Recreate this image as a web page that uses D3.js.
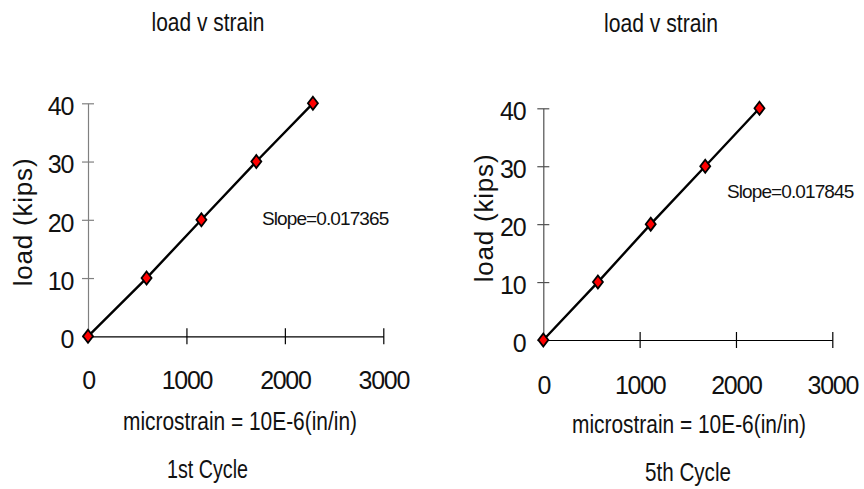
<!DOCTYPE html>
<html>
<head>
<meta charset="utf-8">
<script src="https://cdn.jsdelivr.net/npm/d3@7"></script>
<style>
  html, body { margin: 0; padding: 0; background: #fff; }
  svg { display: block; font-family: "Liberation Sans", Arial, sans-serif; }
</style>
</head>
<body>
<svg id="chart" width="864" height="489"></svg>
<script>
// ---- data ----
const loadTicks = [0, 10, 20, 30, 40];
const strainTicks = [0, 1000, 2000, 3000];
const cycle1Strain = [0, 595, 1152, 1710, 2285];
const cycle1Load = [0, 10, 20, 30, 40];
const cycle5Strain = [0, 567, 1115, 1681, 2244];
const cycle5Load = [0, 10, 20, 30, 40];
const chartTitles = ["load v strain", "load v strain"];
const cycleLabels = ["1st Cycle", "5th Cycle"];
const slopeLabels = ["Slope=0.017365", "Slope=0.017845"];
const xTitle = "microstrain = 10E-6(in/in)";
const yTitle = "load (kips)";

const svg = d3.select("#chart");

const panels = [
  { strain: cycle1Strain, load: cycle1Load, title: chartTitles[0], cycle: cycleLabels[0], slope: slopeLabels[0],
    x0: 88, x1: 383.3, y0: 336.3, y1: 103.3, yAxisColor: "#808080",
    titleX: 208, titleY: 31, titleW: 113,
    yLabX: 24, yLabY: 222, ytickOff: 15,
    xTitleX: 240, xTitleY: 430, xTitleW: 234,
    cycX: 207.5, cycY: 478, cycW: 81,
    slopeX: 262, slopeY: 225, xtickY: 389 },
  { strain: cycle5Strain, load: cycle5Load, title: chartTitles[1], cycle: cycleLabels[1], slope: slopeLabels[1],
    x0: 543.3, x1: 832.3, y0: 340, y1: 108.3, yAxisColor: "#505050",
    titleX: 661, titleY: 32, titleW: 114,
    yLabX: 485, yLabY: 218, ytickOff: 18,
    xTitleX: 689, xTitleY: 433, xTitleW: 234,
    cycX: 688, cycY: 481, cycW: 86,
    slopeX: 727, slopeY: 198, xtickY: 394 }
];

panels.forEach(p => {
  const x = d3.scaleLinear().domain([0, 3000]).range([p.x0, p.x1]);
  const y = d3.scaleLinear().domain([0, 40]).range([p.y0, p.y1]);
  const g = svg.append("g");

  // title
  g.append("text").attr("x", p.titleX).attr("y", p.titleY)
    .attr("text-anchor", "middle").attr("font-size", 26)
    .attr("textLength", p.titleW).attr("lengthAdjust", "spacingAndGlyphs")
    .attr("fill", "#111").text(p.title);

  // y axis
  const yAxis = d3.axisLeft(y).tickValues(loadTicks).tickSize(0).tickPadding(p.ytickOff);
  const ya = g.append("g").attr("transform", `translate(${p.x0},0)`).call(yAxis);
  ya.select(".domain").attr("stroke", p.yAxisColor).attr("stroke-width", 1.2);
  ya.selectAll(".tick text").attr("font-size", 25).attr("letter-spacing", "-1.3px")
    .attr("fill", "#111").attr("font-family", "Liberation Sans, Arial, sans-serif").attr("dy", "0.45em");
  ya.selectAll(".tick").append("line")
    .attr("x1", -6).attr("x2", 6).attr("stroke", p.yAxisColor).attr("stroke-width", 1.2);

  // x axis
  const xAxis = d3.axisBottom(x).tickValues(strainTicks).tickFormat(d3.format("d")).tickSize(0).tickPadding(0);
  const xa = g.append("g").attr("transform", `translate(0,${p.y0})`).call(xAxis);
  xa.select(".domain").attr("stroke", "#000").attr("stroke-width", 1.2);
  xa.selectAll(".tick text").attr("font-size", 25).attr("letter-spacing", "-1.3px")
    .attr("fill", "#111").attr("font-family", "Liberation Sans, Arial, sans-serif")
    .attr("y", p.xtickY - p.y0).attr("dy", 0);
  xa.selectAll(".tick").filter(d => d !== 0).append("line")
    .attr("y1", -8).attr("y2", 8).attr("stroke", "#000").attr("stroke-width", 1.2);

  // y title
  g.append("text")
    .attr("transform", `translate(${p.yLabX + 8},${p.yLabY}) rotate(-90)`)
    .attr("text-anchor", "middle").attr("font-size", 26).attr("letter-spacing", "0.8px")
    .attr("fill", "#111").text(yTitle);

  // x title
  g.append("text").attr("x", p.xTitleX).attr("y", p.xTitleY)
    .attr("text-anchor", "middle").attr("font-size", 25)
    .attr("textLength", p.xTitleW).attr("lengthAdjust", "spacingAndGlyphs")
    .attr("fill", "#111").text(xTitle);

  // cycle label
  g.append("text").attr("x", p.cycX).attr("y", p.cycY)
    .attr("text-anchor", "middle").attr("font-size", 25)
    .attr("textLength", p.cycW).attr("lengthAdjust", "spacingAndGlyphs")
    .attr("fill", "#111").text(p.cycle);

  // slope label
  g.append("text").attr("x", p.slopeX).attr("y", p.slopeY)
    .attr("font-size", 19).attr("letter-spacing", "-0.9px")
    .attr("fill", "#111").text(p.slope);

  // line
  const pts = p.strain.map((s, i) => [s, p.load[i]]);
  g.append("path").datum(pts)
    .attr("d", d3.line().x(d => x(d[0])).y(d => y(d[1])))
    .attr("fill", "none").attr("stroke", "#000").attr("stroke-width", 2.4);

  // markers
  g.selectAll(".mk").data(pts).join("path")
    .attr("class", "mk")
    .attr("transform", d => `translate(${x(d[0])},${y(d[1])})`)
    .attr("d", "M0,-6.5L5,0L0,6.5L-5,0Z")
    .attr("fill", "#ff0000").attr("stroke", "#000").attr("stroke-width", 1.8);
});
</script>
</body>
</html>
